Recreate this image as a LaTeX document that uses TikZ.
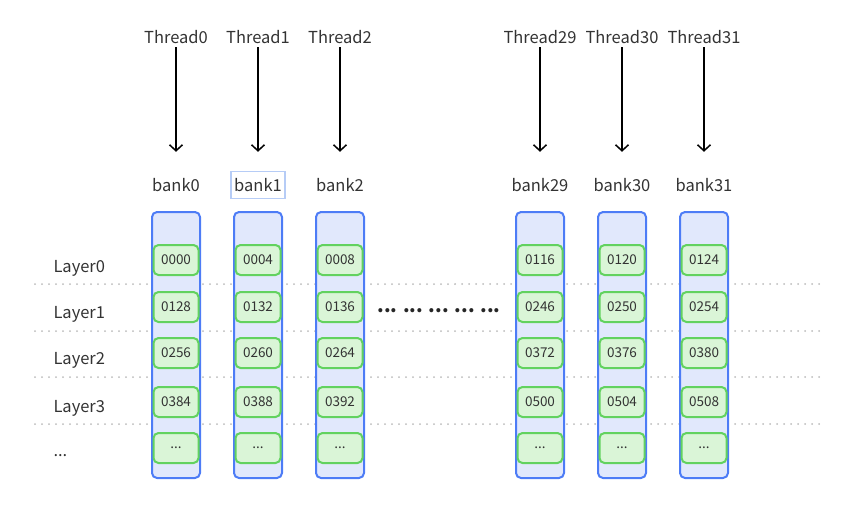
\documentclass[tikz,border=0pt]{standalone}
\usepackage{fontspec}
\setmainfont{Noto Sans CJK SC}
\usetikzlibrary{arrows.meta}
\definecolor{bankblue}{HTML}{4D7CF6}
\definecolor{bankfill}{HTML}{E1E8FC}
\definecolor{cellgreen}{HTML}{62D25F}
\definecolor{cellfill}{HTML}{DAF5D7}
\definecolor{layergray}{HTML}{BBBBBB}
\definecolor{hlblue}{HTML}{B6CCF6}
\definecolor{txt}{HTML}{333333}
\tikzset{
  lbl/.style={text=txt, font=\fontsize{16.5}{19}\selectfont},
  bankcol/.style={draw=bankblue, fill=bankfill, line width=2pt, rounded corners=5pt,
    minimum width=48pt, minimum height=266pt},
  cell/.style={draw=cellgreen, fill=cellfill, line width=2pt, rounded corners=5pt,
    minimum width=45pt, minimum height=30pt, text=txt, font=\fontsize{13.5}{15}\selectfont},
  layerline/.style={layergray, line width=2pt, line cap=round, dash pattern=on 0pt off 7pt},
  arr/.style={-{Straight Barb[length=6pt,width=13pt,line width=1.5pt]}, line width=1.5pt}
}
\begin{document}
\begin{tikzpicture}[x=1pt, y=-1pt]
\useasboundingbox (0,0) rectangle (865,509);
% layer separators
\draw[layerline] (35,284) -- (822,284);
\draw[layerline] (35,331) -- (822,331);
\draw[layerline] (35,377) -- (822,377);
\draw[layerline] (35,424) -- (822,424);
% layer names
\node[lbl, anchor=west] (l0) at (50,268) {Layer0};
\node[lbl, anchor=west] (l1) at (50,314) {Layer1};
\node[lbl, anchor=west] (l2) at (50,360) {Layer2};
\node[lbl, anchor=west] (l3) at (50,408) {Layer3};
\node[lbl, anchor=west] (l4) at (50,456) {...};
% threads, banks and cells
\foreach \x/\n/\a/\b/\c/\d in {176/0/0000/0128/0256/0384, 258/1/0004/0132/0260/0388,
    340/2/0008/0136/0264/0392, 540/29/0116/0246/0372/0500,
    622/30/0120/0250/0376/0504, 704/31/0124/0254/0380/0508} {
  \node[lbl] (t\n) at (\x,37) {Thread\n};
  \node[lbl] (b\n) at (\x,185) {bank\n};
  \draw[arr, shorten >=23pt] (t\n) -- (b\n);
  \node[bankcol] (col\n) at (\x,345) {};
  \node[cell] (c\n-0) at (\x,260) {\a};
  \node[cell] (c\n-1) at (\x,307) {\b};
  \node[cell] (c\n-2) at (\x,353) {\c};
  \node[cell] (c\n-3) at (\x,402) {\d};
  \node[cell] (c\n-4) at (\x,448) {...};
}
\node[draw=hlblue, line width=1.5pt, minimum width=54pt, minimum height=27pt] (hl) at (b1) {};
\node[text=black!85, font=\bfseries\fontsize{19}{21}\selectfont] (gap) at (439,311) {... ... ... ... ...};
\end{tikzpicture}
\end{document}
